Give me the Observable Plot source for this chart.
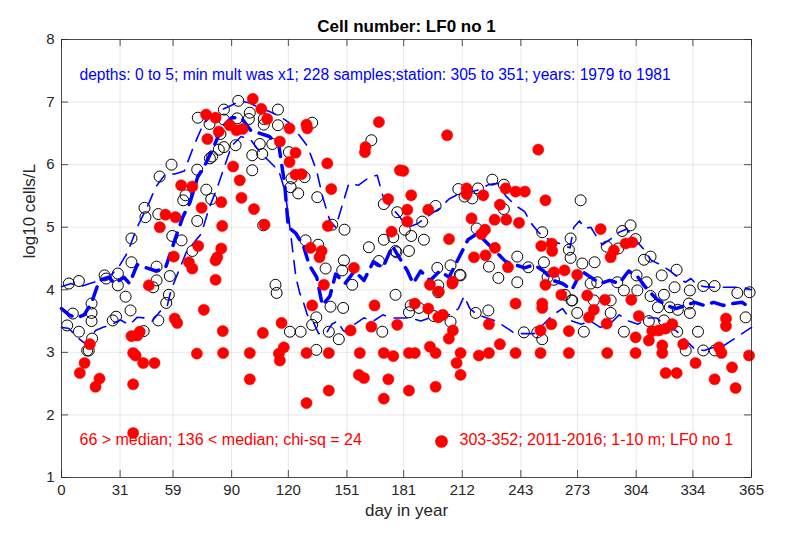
<!DOCTYPE html>
<html>
<head>
<meta charset="utf-8">
<script src="https://cdn.jsdelivr.net/npm/d3@7"></script>
<script src="https://cdn.jsdelivr.net/npm/@observablehq/plot@0.6"></script>
<style>
  html, body { margin: 0; padding: 0; background: #fff; }
  #chart svg { display: block; }
</style>
</head>
<body>
<div id="chart"></div>
<script>
// ---- tick labels ----
const xTicks = [0, 31, 59, 90, 120, 151, 181, 212, 243, 273, 304, 334, 365];
const yTicks = [1, 2, 3, 4, 5, 6, 7, 8];

// ---- texts ----
const titleText = "Cell number: LF0 no 1";
const xLabel = "day in year";
const yLabel = "log10 cells/L";
const infoText = "depths: 0 to 5; min mult was x1; 228 samples;station: 305 to 351; years: 1979 to 1981";
const statText = "66 > median; 136 < median; chi-sq = 24";
const legendText = "303-352; 2011-2016; 1-10 m; LF0 no 1";

// ---- historical samples (open black circles): day, log10 value ----
const histDay = [85.9,93.5,72.1,78.3,85.9,84.1,85.9,83.2,78.5,79.7,58.2,51.9,71.8,76.6,79.2,65.6,64.4,43.9,44.4,51.2,71.8,37,58.6,63.5,69.2,37,50.3,57.3,22.8,23.6,29.8,3.9,9.2,50.3,
  29.8,33.9,48.5,56.8,55.4,15.9,15.9,15.9,6,3,9.2,36.5,28.9,27.1,51.2,43.5,16.2,13.6,14.4,
  92.9,99.6,99.1,114.5,107,107,114.5,132.6,104.9,106.2,111.5,100.9,100.9,92.1,120.3,163.9,121.7,128.6,121.2,125.2,135.3,170.5,177.6,106.7,143.2,149.7,129.1,135.8,162.6,170.5,167.9,177.2,149.4,148.5,139.7,113.2,153.8,
  113.8,176.7,142.3,149,134.8,132.6,120.8,126.5,141.4,146.7,134.8,169.7,
  181.6,185,175.5,191.7,176.7,183.8,209.9,213.2,217.3,220.3,227.9,234,234,219.6,241.1,226.1,231.1,241.1,198.8,205.8,210.7,246.9,254.3,269.3,268.4,269.3,255.2,257.1,260.5,274.6,197.9,190.8,
  183.8,184.7,189.1,197,199.3,199.3,205.8,211.1,219.1,225.8,244.6,251.7,254.3,266.3,269.8,
  301,296.6,303.7,288.4,294.5,275.5,282,308.1,311.6,317.5,325.4,309.5,283.4,294,339.5,345.5,
  279.9,304.2,297.5,304.6,311.6,318.7,324.3,332.4,357.5,364,270.2,272.8,281.6,290.5,290.5,315.5,321.8,326,331.9,332.4,276.3,297.5,310.7,318.7,325.7,336.7,330.2,339.5,345.6,361.9];
const histVal = [6.88,7.02,6.75,6.65,6.72,6.49,6.28,6.24,6.10,6.13,6.00,5.81,5.92,5.60,5.45,5.51,5.43,5.31,5.16,5.21,5.10,4.82,4.86,4.79,4.62,4.44,4.37,4.22,4.23,4.18,4.26,4.10,4.14,4.15,
  4.07,3.89,4.04,3.92,3.79,3.78,3.63,3.50,3.62,3.43,3.33,3.67,3.57,3.51,3.51,3.34,3.22,3.03,3.03,
  6.74,6.83,6.73,6.88,6.73,6.64,6.63,6.67,6.33,6.17,6.33,6.15,5.91,6.31,6.20,6.39,5.78,5.80,5.64,5.54,5.48,5.37,5.24,5.03,5.04,4.96,4.79,4.72,4.68,4.80,4.46,4.60,4.47,4.31,4.34,4.08,4.08,
  3.95,3.92,3.73,3.71,3.56,3.44,3.33,3.33,3.33,3.21,3.04,3.33,
  4.96,4.86,4.84,4.80,4.62,4.62,5.61,5.49,5.46,5.62,5.76,5.68,5.29,4.98,4.53,4.37,4.19,4.12,4.35,4.39,4.24,4.36,4.92,4.82,4.64,4.51,4.44,4.20,4.16,5.43,5.34,5.09,
  3.64,3.75,3.71,3.58,4.07,3.96,3.49,4.23,3.63,3.67,3.32,3.32,3.21,3.92,3.83,
  5.03,4.94,4.81,4.69,4.66,4.42,4.44,4.48,4.53,4.23,4.32,4.12,4.12,4.12,4.06,4.06,
  4.10,4.23,3.99,3.99,3.90,3.92,4.04,3.99,3.95,3.96,3.83,3.63,3.83,3.83,3.63,3.72,3.72,3.68,3.78,3.63,3.33,3.33,3.50,3.51,3.33,3.33,3.03,3.03,3.03,3.56];

// ---- recent samples (filled red dots) ----
const recentDay = [9.7,12.2,15,18,20.1,37,40.1,41.4,37.9,39.2,43.2,49.2,37.9,37.9,46.2,81.5,75.3,85.3,59.9,61.2,71.6,85.5,
  76.5,81.5,89,83.2,77.2,90.8,63.3,69.2,84.5,74.1,55,60.3,52,85,72.3,59.4,84.5,67.4,69.2,82.4,81.5,
  101.2,105.7,108.8,92.6,95.8,120.6,129.6,130,167.9,115.5,160.8,160.5,123.8,120.6,140.6,94.3,123.8,127,142.7,179,95.2,101.8,172.8,107.4,140.9,174.6,131.7,137.6,136.5,154.7,138.8,
  132.6,165.6,116.4,106.5,152.9,163.9,177.6,99.6,115,117.6,115.5,129.6,141.4,157.8,170.5,175.5,99.6,157.3,160,172.9,141.4,129.6,170.5,
  204,252.2,180.8,185,256,214.3,214.3,223.1,234.9,240.2,245.1,182.9,194,231.9,182.9,216.9,229.1,235.3,242,224,222.1,205,229.3,218.2,224.3,236.2,253.8,259.3,259.6,260.5,266.1,272.8,194.9,207,256,
  199.6,206.7,186.9,194,201.7,199.3,207,204.9,194.9,197.9,183.8,186.9,211.1,209,211.1,183.8,197.9,220.8,226.1,226.1,231.9,240.2,240.2,254.3,254.3,264.4,253.4,259.1,268.4,253.4,268.4,
  285.2,292.2,290.5,298.4,301.9,278.1,281.6,279,287.5,301.4,288.4,305.4,303.7,310.7,312.5,316,319.6,323.1,317.8,317.8,288.7,303.7,328.9,319.6,325.4,335.4,347.8,349.1,351.5,351.5,354.7,345.5,356.6,363.7];
const recentVal = [2.67,2.83,3.13,2.45,2.58,3.26,3.27,3.33,2.99,2.95,2.83,2.83,2.49,1.71,4.07,4.16,3.68,3.34,3.54,3.47,2.98,2.99,
  6.80,6.75,6.63,6.53,6.41,5.97,5.67,5.65,5.40,5.31,5.20,5.16,5.00,5.02,4.70,4.53,4.66,4.44,4.34,4.52,4.47,
  7.05,6.89,6.73,6.55,6.57,6.58,6.64,6.58,6.68,6.37,6.28,6.20,6.19,6.04,6.02,5.75,5.84,5.85,5.61,5.91,5.47,5.29,5.45,5.04,5.02,4.93,4.67,4.62,4.52,4.35,4.08,
  3.75,3.75,3.47,3.31,3.35,3.41,3.44,2.99,2.98,3.08,2.87,2.99,2.99,2.99,2.99,2.94,2.57,2.64,2.59,2.57,2.39,2.19,2.26,
  6.47,6.24,5.90,5.51,5.43,5.62,5.53,5.51,5.62,5.57,5.57,5.28,5.28,5.36,5.09,5.14,5.12,5.12,5.07,4.96,4.89,4.81,4.67,4.52,4.55,4.36,4.70,4.74,4.62,4.28,4.31,4.24,4.08,4.13,4.08,
  3.97,4.10,3.78,3.70,3.60,3.56,3.35,3.22,3.09,2.99,2.99,2.99,2.99,2.83,2.64,2.39,2.45,2.95,2.99,3.45,3.13,3.78,2.99,3.78,3.71,3.92,3.35,3.45,3.34,2.99,2.99,
  4.97,4.63,4.52,4.74,4.76,3.91,3.68,3.56,3.84,3.84,3.46,3.58,3.24,3.19,3.34,3.35,3.38,3.45,3.11,2.99,2.99,2.99,3.13,2.67,2.67,2.83,3.08,2.99,3.54,3.42,2.76,2.57,2.43,2.95];

// ---- historical percentile curves (blue dashed) ----
const upperDay = [0,5,10,15,20,25,30,35,40,45,50,55,60,65,70,75,80,85,90,95,100,105,110,115,120,125,130,135,138,142,145,148,152,157,163,167,170,175,178,183,188,195,200,205,210,216,221,226,231,235,240,245,248,252,255,260,265,269,271,274,277,280,283,286,290,295,299,302,305,308,312,317,322,326,330,333,336,340,345,350,355,360,365];
const upperVal = [4.05,4.1,4.05,4.1,4.15,4.2,4.35,4.6,5.0,5.3,5.65,5.85,5.85,5.9,6.3,6.65,6.8,6.88,6.95,7.02,6.98,6.9,6.85,6.78,6.68,6.5,6.3,5.9,5.5,5.1,5.0,5.3,5.7,5.67,5.8,5.83,5.5,5.3,5.2,5.0,5.05,5.2,5.3,5.45,5.53,5.56,5.6,5.68,5.7,5.5,5.35,5.25,5.08,4.93,4.84,4.78,4.72,4.67,5.0,5.1,4.98,5.0,4.85,4.72,4.8,4.92,4.97,4.85,4.75,4.65,4.47,4.4,4.3,4.2,4.12,4.18,4.08,4.05,4.04,4.04,4.04,4.04,4.0];

const medianDay = [0,4,8,12,16,20,25,28,33,36,40,45,50,55,60,64,68,72,76,80,85,90,95,100,105,110,115,118,120,124,128,131,135,138,142,145,150,155,160,165,170,175,180,183,186,190,195,200,205,210,215,220,225,230,235,240,245,250,255,260,265,270,275,280,285,290,295,300,305,310,315,320,325,330,335,340,345,350,355,360,365];
const medianVal = [3.7,3.6,3.55,3.6,3.8,4.15,4.2,4.1,4.2,4.1,4.4,4.35,4.3,4.35,4.8,5.15,5.4,5.8,6.0,6.25,6.6,6.75,6.75,6.55,6.5,6.45,6.3,5.7,5.0,4.9,4.7,4.4,4.2,3.75,3.9,4.25,4.1,4.3,4.15,4.45,4.35,4.7,4.45,4.3,4.1,4.3,4.15,4.3,4.2,4.5,4.8,4.9,4.75,4.6,4.45,4.4,4.35,4.4,4.3,4.15,4.1,4.0,4.3,4.2,4.1,4.15,4.1,4.3,4.2,4.0,3.85,3.75,3.7,3.75,3.8,3.75,3.8,3.75,3.78,3.8,3.7];

const lowerDay = [0,4,8,12,15,18,22,27,31,36,40,44,48,52,56,58,62,66,70,74,78,82,86,90,95,100,105,110,115,118,120,122,124,126,128,130,133,136,140,143,146,149,152,155,160,165,170,175,180,185,190,195,200,205,210,213,216,220,225,230,235,240,245,250,255,260,265,270,275,280,285,290,295,300,305,310,315,320,325,330,335,340,345,350,355,360,365];
const lowerVal = [3.4,3.38,3.25,3.15,3.2,3.35,3.4,3.45,3.52,3.44,3.56,3.55,3.5,3.65,3.75,4.0,4.3,4.6,4.75,4.9,5.3,5.6,5.95,6.3,6.45,6.4,6.2,6.05,5.9,5.6,5.2,4.7,4.2,3.95,3.8,3.6,3.5,3.3,3.3,3.45,3.5,3.35,3.3,3.45,3.55,3.5,3.6,3.55,3.55,3.55,3.5,3.55,3.55,3.6,3.7,3.9,3.7,3.6,3.55,3.5,3.4,3.3,3.3,3.3,3.45,3.6,3.7,3.5,3.45,3.5,3.4,3.45,3.6,3.5,3.45,3.55,3.55,3.4,3.35,3.2,3.05,3.03,3.08,3.1,3.2,3.3,3.4];

// ---- build tables ----
const hist = histDay.map((d, i) => ({day: d, val: histVal[i]}));
const recent = recentDay.map((d, i) => ({day: d, val: recentVal[i]}));
const upper = upperDay.map((d, i) => ({day: d, val: upperVal[i]}));
const median = medianDay.map((d, i) => ({day: d, val: medianVal[i]}));
const lower = lowerDay.map((d, i) => ({day: d, val: lowerVal[i]}));

const FONT = "'Liberation Sans', Arial, Helvetica, sans-serif";
const BLUE = "rgb(0,0,255)";
const RED = "rgb(255,0,0)";
const frameH = 539 - 39 - 62;
const frameW = 787 - 61 - 36;
const tickLen = 7;

const chart = Plot.plot({
  width: 787,
  height: 539,
  marginLeft: 61,
  marginRight: 36,
  marginTop: 39,
  marginBottom: 62,
  style: {fontFamily: FONT, background: "#fff", overflow: "visible"},
  x: {domain: [0, 365]},
  y: {domain: [1, 8]},
  marks: [
    Plot.gridX(xTicks, {stroke: "#000", strokeOpacity: 0.09, strokeWidth: 1}),
    Plot.gridY(yTicks, {stroke: "#000", strokeOpacity: 0.09, strokeWidth: 1}),
    // inward ticks on all four sides
    Plot.tickX(xTicks, {x: d => d, insetTop: frameH - tickLen, stroke: "#262626", strokeWidth: 0.8}),
    Plot.tickX(xTicks, {x: d => d, insetBottom: frameH - tickLen, stroke: "#262626", strokeWidth: 0.8}),
    Plot.tickY(yTicks, {y: d => d, insetRight: frameW - tickLen, stroke: "#262626", strokeWidth: 0.8}),
    Plot.tickY(yTicks, {y: d => d, insetLeft: frameW - tickLen, stroke: "#262626", strokeWidth: 0.8}),
    Plot.axisX(xTicks, {tickSize: 0, tickPadding: 7, fontSize: 15, fill: "#262626", label: null}),
    Plot.axisY(yTicks, {tickSize: 0, tickPadding: 7, fontSize: 15, fill: "#262626", label: null, tickFormat: d => String(d)}),
    // historical samples
    Plot.dot(hist, {x: "day", y: "val", r: 5.5, stroke: "#000", strokeWidth: 1, fill: "none"}),
    // percentile curves
    Plot.line(upper, {x: "day", y: "val", stroke: BLUE, strokeWidth: 1.6, strokeDasharray: "13,9"}),
    Plot.line(lower, {x: "day", y: "val", stroke: BLUE, strokeWidth: 1.6, strokeDasharray: "13,9"}),
    Plot.line(median, {x: "day", y: "val", stroke: BLUE, strokeWidth: 3.5, strokeDasharray: "13,9"}),
    // recent samples
    Plot.dot(recent, {x: "day", y: "val", r: 5.6, fill: RED, stroke: RED, strokeWidth: 0.5}),
    Plot.frame({stroke: "#262626", strokeWidth: 0.8}),
    // titles and annotations
    Plot.text([titleText], {frameAnchor: "top", dy: -20, fontSize: 17, fontWeight: "bold", fill: "#000"}),
    Plot.text([xLabel], {frameAnchor: "bottom", dy: 38, fontSize: 17, fill: "#262626"}),
    Plot.text([yLabel], {frameAnchor: "left", dx: -32, rotate: -90, fontSize: 17, fill: "#262626"}),
    Plot.text([infoText], {frameAnchor: "top-left", dx: 18, dy: 29, textAnchor: "start", fontSize: 15.6, fill: BLUE}),
    Plot.text([statText], {frameAnchor: "bottom-left", dx: 18, dy: -33, textAnchor: "start", fontSize: 16, fill: RED}),
    Plot.dot([legendText], {frameAnchor: "bottom-left", dx: 380, dy: -36, r: 5.6, fill: RED, stroke: RED}),
    Plot.text([legendText], {frameAnchor: "bottom-left", dx: 398, dy: -33, textAnchor: "start", fontSize: 16, fill: RED})
  ]
});
document.getElementById("chart").appendChild(chart);
</script>
</body>
</html>
